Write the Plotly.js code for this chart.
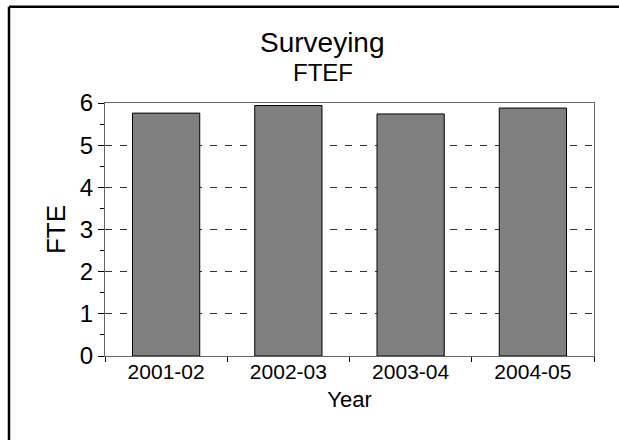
<!DOCTYPE html>
<html>
<head>
<meta charset="utf-8">
<script src="https://cdn.plot.ly/plotly-3.0.1.min.js"></script>
<style>
  html, body { margin: 0; padding: 0; background: #fff; overflow: hidden; }
  #chart { width: 619px; height: 440px; }
</style>
</head>
<body>
<div id="chart"></div>
<script>
// Data
const years = ["2001-02", "2002-03", "2003-04", "2004-05"];
const fte = [5.76, 5.94, 5.74, 5.88];
const titleLine1 = "Surveying";
const titleLine2 = "FTEF";
const xTitle = "Year";
const yTitle = "FTE";

const FONT = "Arial, 'Liberation Sans', sans-serif";

const trace = {
  type: "bar",
  x: years,
  y: fte,
  marker: { color: "#808080", line: { color: "#000000", width: 1 } },
  hoverinfo: "x+y"
};

const layout = {
  width: 619,
  height: 440,
  margin: { l: 105, r: 25, t: 103, b: 84, pad: 0 },
  paper_bgcolor: "#ffffff",
  plot_bgcolor: "#ffffff",
  showlegend: false,
  bargap: 0.45,
  font: { family: FONT, color: "#000" },
  xaxis: {
    type: "category",
    range: [-0.5, 3.5],
    showline: true, linecolor: "#666", linewidth: 1, mirror: true,
    ticks: "outside", tickson: "boundaries", ticklen: 5, tickcolor: "#000", tickwidth: 1,
    ticklabelstandoff: -3,
    tickfont: { family: FONT, size: 21, color: "#000" },
    showgrid: false, zeroline: false,
    title: { text: xTitle, font: { family: FONT, size: 22, color: "#000" }, standoff: 9 }
  },
  yaxis: {
    range: [0, 6],
    dtick: 1,
    showline: true, linecolor: "#666", linewidth: 1, mirror: true,
    ticks: "outside", ticklen: 6, tickcolor: "#000", tickwidth: 1,
    minor: { dtick: 0.5, ticks: "outside", ticklen: 4, tickcolor: "#000", showgrid: false },
    tickfont: { family: FONT, size: 24, color: "#000" },
    showgrid: true, gridcolor: "#333", gridwidth: 1, griddash: "7px,8px",
    zeroline: false,
    title: { text: yTitle, font: { family: FONT, size: 26, color: "#000" }, standoff: 6 }
  },
  xaxis2: {
    overlaying: "x", anchor: "y", type: "linear", range: [-0.5, 3.5],
    tickvals: [-0.5, 0.5, 1.5, 2.5, 3.5],
    ticks: "inside", ticklen: 5, tickcolor: "#000",
    showticklabels: false, showgrid: false, zeroline: false, showline: false
  },
  yaxis2: {
    overlaying: "y", anchor: "x", side: "left", range: [0, 6],
    dtick: 1,
    ticks: "inside", ticklen: 8, tickcolor: "#000",
    minor: { dtick: 0.5, ticks: "inside", ticklen: 3, tickcolor: "#000", showgrid: false },
    showticklabels: false, showgrid: false, zeroline: false, showline: false
  },
  annotations: [
    { text: titleLine1, xref: "paper", yref: "paper", x: 0.4452, y: 1.2387,
      xanchor: "center", yanchor: "middle", showarrow: false,
      font: { family: FONT, size: 28, color: "#000" } },
    { text: titleLine2, xref: "paper", yref: "paper", x: 0.4452, y: 1.1202,
      xanchor: "center", yanchor: "middle", showarrow: false,
      font: { family: FONT, size: 24, color: "#000" } }
  ],
  shapes: [
    { type: "line", xref: "paper", yref: "paper", x0: -0.1963, x1: 1.06, y0: 1.3802, y1: 1.3802,
      line: { color: "#000", width: 2.5 } },
    { type: "line", xref: "paper", yref: "paper", x0: -0.1963, x1: -0.1963, y0: 1.3802, y1: -0.34,
      line: { color: "#000", width: 2.5 } }
  ]
};

Plotly.newPlot("chart", [trace], layout, { staticPlot: true, displayModeBar: false });
</script>
</body>
</html>
